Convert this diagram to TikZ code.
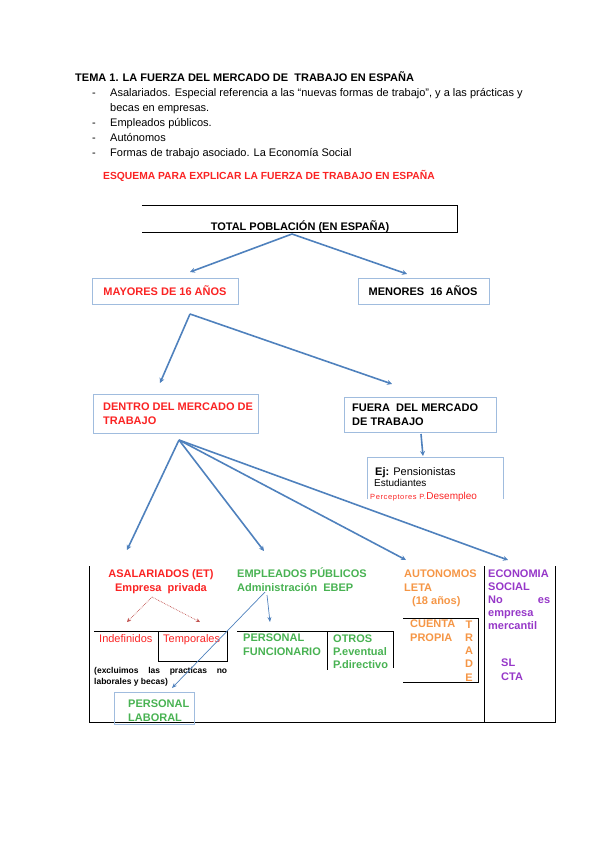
\documentclass[tikz,border=0pt]{standalone}
\usepackage{fontspec}
\setmainfont{Liberation Sans}
\usetikzlibrary{calc,positioning,arrows.meta}
\definecolor{ArrBlue}{RGB}{79,129,189}
\definecolor{BoxBlue}{RGB}{160,188,222}
\definecolor{EsqRed}{RGB}{250,35,35}
\definecolor{DotRed}{RGB}{192,80,77}
\definecolor{EsqGreen}{RGB}{72,178,82}
\definecolor{EsqOrange}{RGB}{245,150,70}
\definecolor{EsqPurple}{RGB}{150,55,200}

\begin{document}
\begin{tikzpicture}[x=1pt,y=-1pt,
  arr/.style={ArrBlue,line width=1.6pt,-{Stealth[length=5pt,width=5pt]}},
  arrthin/.style={ArrBlue,line width=0.7pt,-{Stealth[length=5pt,width=4pt]}},
  redarr/.style={DotRed,densely dotted,line width=0.7pt,-{Stealth[length=4pt,width=4pt]}},
  bx/.style={draw=BoxBlue,line width=0.8pt,inner sep=0},
  ln/.style={black,line width=1pt},
  txt/.style={anchor=base west,inner sep=0,align=left,font=\bfseries\fontsize{11}{13.5}\selectfont},
  ctxt/.style={anchor=base,inner sep=0,align=center,font=\bfseries\fontsize{11}{13.5}\selectfont}]
\useasboundingbox (0,0) rectangle (600,848);
% heading (multi-line nodes sit on their last line)
\node[txt] (tema) at (75,82) {TEMA 1. LA FUERZA DEL MERCADO DE \ TRABAJO EN ESPAÑA};
\node[txt,font=\fontsize{11}{15}\selectfont] (temas) at (110,157) {Asalariados. Especial referencia a las “nuevas formas de trabajo”, y a las prácticas y\\becas en empresas.\\Empleados públicos.\\Autónomos\\Formas de trabajo asociado. La Economía Social};
\foreach \y in {97,127,142,157} \node[txt,font=\fontsize{11}{13}\selectfont] (d\y) at (92,\y) {-};
\node[txt,EsqRed,font=\bfseries\fontsize{10.3}{12}\selectfont] (esq) at (103,179) {ESQUEMA PARA EXPLICAR LA FUERZA DE TRABAJO EN ESPAÑA};
% first levels
\node[minimum width=315,minimum height=26,inner sep=0] (total) at (299.5,219) {};
\draw[ln] (total.north west) -- (total.north east) -- (total.south east) -- (total.south west);
\node[ctxt] (total-t) at (300,230) {TOTAL POBLACIÓN (EN ESPAÑA)};
\node[bx,minimum width=146,minimum height=26] (may) at (165,291) {};
\node[ctxt,EsqRed] (may-t) at (165,295) {MAYORES DE 16 AÑOS};
\node[bx,minimum width=131,minimum height=26] (men) at (423.5,291) {};
\node[ctxt] (men-t) at (423,295) {MENORES \ 16 AÑOS};
\coordinate (t1) at (292,234);\coordinate (t2) at (190,272);\coordinate (t3) at (407,274);
\draw[arr] (t1) -- (t2);\draw[arr] (t1) -- (t3);
\coordinate (m1) at (190,314);\coordinate (m2) at (160,383);\coordinate (m3) at (392,384);
\draw[arr] (m1) -- (m2);\draw[arr] (m1) -- (m3);
\node[bx,minimum width=165,minimum height=39] (dentro) at (175.5,413.5) {};
\node[txt,EsqRed] (dentro-t) at (103,424) {DENTRO DEL MERCADO DE\\TRABAJO};
\node[bx,minimum width=152,minimum height=35] (fuera) at (420,414.5) {};
\node[txt] (fuera-t) at (352,425) {FUERA \ DEL MERCADO\\DE TRABAJO};
\coordinate (f1) at (421,434);\coordinate (f2) at (423,456);
\draw[arr] (f1) -- (f2);
\coordinate (ej-a) at (367,499);\coordinate (ej-b) at (367,457);\coordinate (ej-c) at (503,457);\coordinate (ej-d) at (503,499);
\draw[BoxBlue,line width=0.8pt] (ej-a) -- (ej-b) -- (ej-c) -- (ej-d);
\node[txt,font=\fontsize{11}{11}\selectfont] (ej-t) at (375,475) {\textbf{Ej:} Pensionistas};
\node[txt,font=\fontsize{10}{11}\selectfont] (est-t) at (374,486) {Estudiantes};
\node[txt,font=\addfontfeature{LetterSpace=8}\fontsize{7.5}{9}\selectfont,EsqRed] (perc-t) at (370,499) {Perceptores P.};
\node[txt,font=\fontsize{10}{11}\selectfont,EsqRed] (des-t) at (perc-t.base east) {Desempleo};
\coordinate (d1) at (179,440);
\coordinate (e1) at (127,550);\coordinate (e2) at (264,551);\coordinate (e3) at (406,560);\coordinate (e4) at (508,560);
\foreach \i in {1,...,4} \draw[arr] (d1) -- (e\i);
% table
\draw[ln] (89,566) -- (89,722) -- (555,722) -- (555,566);
\draw[ln] (484,566) -- (484,722);
\node[ctxt,EsqRed] (asal-t) at (161,591) {ASALARIADOS (ET)\\Empresa \ privada};
\coordinate (a1) at (152,597);\coordinate (a2) at (127,622);\coordinate (a3) at (200,622);
\draw[redarr] (a1) -- (a2);\draw[redarr] (a1) -- (a3);
\draw[ln] (94,631) -- (227,631) -- (227,661) -- (158,661);
\draw[ln] (158,631) -- (158,661);
\node[txt,font=\fontsize{11}{13}\selectfont,EsqRed] (indef-t) at (99,642) {Indefinidos};
\node[txt,font=\fontsize{11}{13}\selectfont,EsqRed] (temp-t) at (163,642) {Temporales};
\node[txt,font=\bfseries\fontsize{8.5}{10.5}\selectfont] (excl-t) at (94,684) {\makebox[133pt][s]{(excluimos las practicas no}\\laborales y becas)};
\node[bx,minimum width=80,minimum height=32] (lab) at (154,708) {};
\node[txt,EsqGreen] (lab-t) at (128,721) {PERSONAL\\LABORAL};
\node[txt,EsqGreen] (emp-t) at (237,591) {EMPLEADOS PÚBLICOS\\Administración \ EBEP};
\coordinate (p1) at (265,592);\coordinate (p2) at (172,688);
\draw[arrthin] (p1) -- (p2);
\coordinate (q1) at (267,595);\coordinate (q2) at (270,622);
\draw[arrthin] (q1) -- (q2);
\draw[ln] (237,631) -- (393,631) -- (393,668);
\draw[ln] (327,631) -- (327,670);
\node[txt,EsqGreen] (func-t) at (243,655) {PERSONAL\\FUNCIONARIO};
\node[txt,EsqGreen,font=\bfseries\fontsize{11}{13}\selectfont] (otros-t) at (333,668) {OTROS\\P.eventual\\P.directivo};
\node[txt,EsqOrange] (aut-t) at (404,591) {AUTONOMOS\\LETA};
\node[txt,EsqOrange] (leta-t) at (412,604) {(18 años)};
\draw[ln] (403,618) -- (478,618) -- (478,682) -- (403,682);
\node[txt,EsqOrange] (cta-t) at (410,641) {CUENTA\\PROPIA};
\node[ctxt,EsqOrange,font=\bfseries\fontsize{11}{13.2}\selectfont] (trade-t) at (469,681) {T\\R\\A\\D\\E};
\node[txt,EsqPurple,font=\bfseries\fontsize{11}{13}\selectfont] (eco-t) at (488,629) {ECONOMIA\\SOCIAL\\\makebox[62pt][s]{No es}\\empresa\\mercantil};
\node[txt,EsqPurple] (sl-t) at (501,680) {SL\\CTA};
\end{tikzpicture}
\end{document}
